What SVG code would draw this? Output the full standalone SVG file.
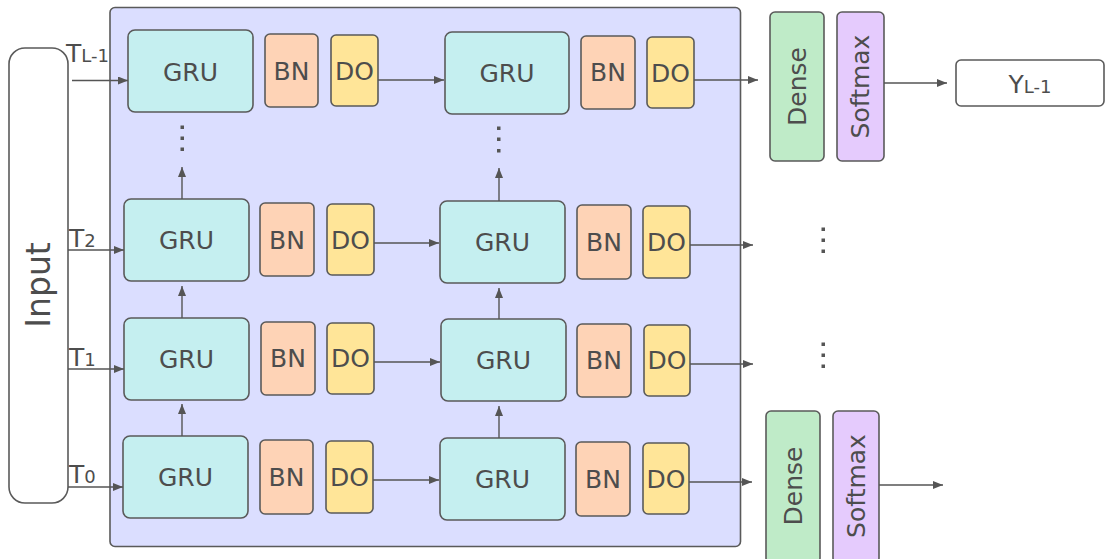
<svg xmlns="http://www.w3.org/2000/svg" width="1105" height="559" viewBox="0 0 1105 559">
  <style>
    .box { stroke: #5a5a5a; stroke-width: 1.6; }
    .gru { fill: #c5eff0; }
    .bn { fill: #fed3b6; }
    .do { fill: #ffe598; }
    .dense { fill: #bfebc8; }
    .soft { fill: #e5cbfd; }
    .lbl { font-family: "DejaVu Sans", "Liberation Sans", sans-serif; font-size: 25px; fill: #4d4d4d; text-anchor: middle; dominant-baseline: central; }
    .sub { font-family: "DejaVu Sans", "Liberation Sans", sans-serif; fill: #4d4d4d; }
    .edge { stroke: #555; stroke-width: 1.4; fill: none; marker-end: url(#arrow); }
    .dot { fill: #555; }
  </style>
  <defs>
    <marker id="arrow" viewBox="0 0 10 8" refX="10" refY="4" markerWidth="10" markerHeight="8" markerUnits="userSpaceOnUse" orient="auto">
      <path d="M0,0 L10,4 L0,8 z" fill="#555"/>
    </marker>
  </defs>

  <!-- recurrent stack background -->
  <g id="stack">
    <rect x="110" y="7.5" width="630.5" height="539" rx="5" fill="#dbdeff" stroke="#5a5a5a" stroke-width="1.6"/>
  </g>

  <!-- input column -->
  <g id="input">
    <rect x="9" y="48" width="59" height="455" rx="16" fill="#fff" class="box"/>
    <text class="lbl" style="font-size:33px" transform="translate(38,285) rotate(-90)">Input</text>
  </g>

  <!-- timestep labels -->
  <g id="t-labels">
    <text class="sub" x="66" y="62" font-size="25">T<tspan font-size="18">L-1</tspan></text>
    <text class="sub" x="69" y="247" font-size="25">T<tspan font-size="18">2</tspan></text>
    <text class="sub" x="69" y="366" font-size="25">T<tspan font-size="18">1</tspan></text>
    <text class="sub" x="69" y="483" font-size="25">T<tspan font-size="18">0</tspan></text>
  </g>

  <!-- row L-1 -->
  <g id="gru-l1-a"><rect class="box gru" x="128" y="30" width="125" height="82" rx="7"/><text class="lbl" x="190.5" y="72">GRU</text></g>
  <g id="bn-l1-a"><rect class="box bn" x="265" y="34" width="53" height="73" rx="5"/><text class="lbl" x="291.5" y="71">BN</text></g>
  <g id="do-l1-a"><rect class="box do" x="331" y="35" width="47" height="71" rx="5"/><text class="lbl" x="354.5" y="71">DO</text></g>
  <g id="gru-l1-b"><rect class="box gru" x="445" y="32" width="124" height="82" rx="7"/><text class="lbl" x="507" y="73">GRU</text></g>
  <g id="bn-l1-b"><rect class="box bn" x="581" y="36" width="54" height="73" rx="5"/><text class="lbl" x="608" y="72">BN</text></g>
  <g id="do-l1-b"><rect class="box do" x="647" y="37" width="47" height="71" rx="5"/><text class="lbl" x="670.5" y="73">DO</text></g>

  <!-- row 2 -->
  <g id="gru-2-a"><rect class="box gru" x="124" y="199" width="125" height="82" rx="7"/><text class="lbl" x="186.5" y="240">GRU</text></g>
  <g id="bn-2-a"><rect class="box bn" x="260" y="203" width="54" height="73" rx="5"/><text class="lbl" x="287" y="240">BN</text></g>
  <g id="do-2-a"><rect class="box do" x="327" y="204" width="47" height="71" rx="5"/><text class="lbl" x="350.5" y="240">DO</text></g>
  <g id="gru-2-b"><rect class="box gru" x="440" y="201" width="125" height="82" rx="7"/><text class="lbl" x="502.5" y="242">GRU</text></g>
  <g id="bn-2-b"><rect class="box bn" x="577" y="205" width="54" height="74" rx="5"/><text class="lbl" x="604" y="242">BN</text></g>
  <g id="do-2-b"><rect class="box do" x="643" y="206" width="47" height="72" rx="5"/><text class="lbl" x="666.5" y="242">DO</text></g>

  <!-- row 1 -->
  <g id="gru-1-a"><rect class="box gru" x="124" y="318" width="125" height="82" rx="7"/><text class="lbl" x="186.5" y="359">GRU</text></g>
  <g id="bn-1-a"><rect class="box bn" x="261" y="322" width="54" height="73" rx="5"/><text class="lbl" x="288" y="358">BN</text></g>
  <g id="do-1-a"><rect class="box do" x="327" y="323" width="47" height="71" rx="5"/><text class="lbl" x="350.5" y="358">DO</text></g>
  <g id="gru-1-b"><rect class="box gru" x="441" y="319" width="125" height="82" rx="7"/><text class="lbl" x="503.5" y="360">GRU</text></g>
  <g id="bn-1-b"><rect class="box bn" x="577" y="324" width="54" height="73" rx="5"/><text class="lbl" x="604" y="360">BN</text></g>
  <g id="do-1-b"><rect class="box do" x="644" y="325" width="46" height="71" rx="5"/><text class="lbl" x="667" y="360">DO</text></g>

  <!-- row 0 -->
  <g id="gru-0-a"><rect class="box gru" x="123" y="436" width="125" height="82" rx="7"/><text class="lbl" x="185.5" y="477">GRU</text></g>
  <g id="bn-0-a"><rect class="box bn" x="260" y="440" width="53" height="74" rx="5"/><text class="lbl" x="286.5" y="477">BN</text></g>
  <g id="do-0-a"><rect class="box do" x="326" y="441" width="47" height="72" rx="5"/><text class="lbl" x="349.5" y="477">DO</text></g>
  <g id="gru-0-b"><rect class="box gru" x="440" y="438" width="125" height="82" rx="7"/><text class="lbl" x="502.5" y="479">GRU</text></g>
  <g id="bn-0-b"><rect class="box bn" x="576" y="442" width="54" height="74" rx="5"/><text class="lbl" x="603" y="479">BN</text></g>
  <g id="do-0-b"><rect class="box do" x="643" y="443" width="46" height="71" rx="5"/><text class="lbl" x="666" y="479">DO</text></g>

  <!-- output heads -->
  <g id="dense-top"><rect class="box dense" x="770" y="12" width="54" height="149" rx="5"/><text class="lbl" transform="translate(797,86.5) rotate(-90)">Dense</text></g>
  <g id="softmax-top"><rect class="box soft" x="837" y="12" width="47" height="149" rx="5"/><text class="lbl" transform="translate(860.5,86.5) rotate(-90)">Softmax</text></g>
  <g id="dense-bottom"><rect class="box dense" x="766" y="411" width="54" height="152" rx="5"/><text class="lbl" transform="translate(793,486) rotate(-90)">Dense</text></g>
  <g id="softmax-bottom"><rect class="box soft" x="833" y="411" width="46" height="152" rx="5"/><text class="lbl" transform="translate(856,486) rotate(-90)">Softmax</text></g>

  <g id="y-out">
    <rect x="956" y="60" width="148" height="46" rx="5" fill="#fff" class="box"/>
    <text class="sub" x="1030" y="93" font-size="25" text-anchor="middle">Y<tspan font-size="18">L-1</tspan></text>
  </g>

  <!-- ellipses -->
  <g id="ellipsis">
    <rect class="dot" x="180.5" y="125.5" width="3.5" height="3.5"/>
    <rect class="dot" x="180.5" y="136.5" width="3.5" height="3.5"/>
    <rect class="dot" x="180.5" y="147.5" width="3.5" height="3.5"/>
    <rect class="dot" x="497" y="126.5" width="3.5" height="3.5"/>
    <rect class="dot" x="497" y="137.5" width="3.5" height="3.5"/>
    <rect class="dot" x="497" y="149" width="3.5" height="3.5"/>
    <rect class="dot" x="821.5" y="227.5" width="3.5" height="3.5"/>
    <rect class="dot" x="821.5" y="238.5" width="3.5" height="3.5"/>
    <rect class="dot" x="821.5" y="249.5" width="3.5" height="3.5"/>
    <rect class="dot" x="821.5" y="342.5" width="3.5" height="3.5"/>
    <rect class="dot" x="821.5" y="353.5" width="3.5" height="3.5"/>
    <rect class="dot" x="821.5" y="364.5" width="3.5" height="3.5"/>
  </g>

  <!-- connectors -->
  <g id="connectors">
    <line class="edge" x1="72" y1="80.5" x2="128" y2="80.5"/>
    <line class="edge" x1="68" y1="250" x2="124" y2="250"/>
    <line class="edge" x1="68" y1="369" x2="124" y2="369"/>
    <line class="edge" x1="68" y1="487" x2="123" y2="487"/>

    <line class="edge" x1="378" y1="80" x2="444" y2="80"/>
    <line class="edge" x1="374" y1="243" x2="439" y2="243"/>
    <line class="edge" x1="374" y1="362" x2="440" y2="362"/>
    <line class="edge" x1="373" y1="480" x2="439" y2="480"/>

    <line class="edge" x1="694" y1="80" x2="758" y2="80"/>
    <line class="edge" x1="690" y1="245" x2="753" y2="245"/>
    <line class="edge" x1="690" y1="364" x2="753" y2="364"/>
    <line class="edge" x1="689" y1="482" x2="752" y2="482"/>

    <line class="edge" x1="884" y1="83" x2="947" y2="83"/>
    <line class="edge" x1="879" y1="485" x2="943" y2="485"/>

    <line class="edge" x1="182" y1="199" x2="182" y2="167"/>
    <line class="edge" x1="182" y1="318" x2="182" y2="286"/>
    <line class="edge" x1="182" y1="436" x2="182" y2="404"/>
    <line class="edge" x1="499" y1="201" x2="499" y2="168"/>
    <line class="edge" x1="499" y1="319" x2="499" y2="288"/>
    <line class="edge" x1="499" y1="438" x2="499" y2="406"/>
  </g>
</svg>
